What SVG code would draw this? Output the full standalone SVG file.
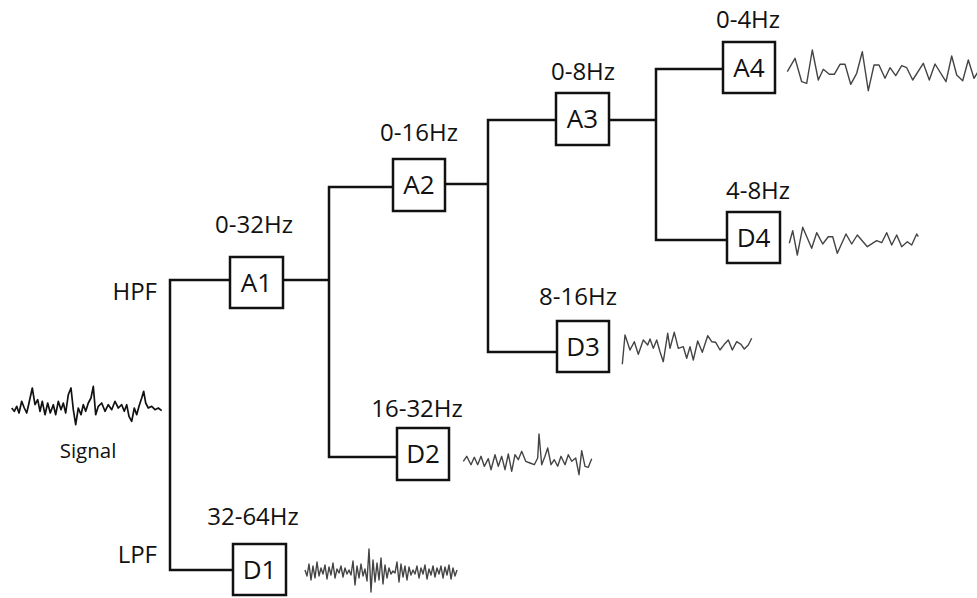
<svg xmlns="http://www.w3.org/2000/svg" width="977" height="598" viewBox="0 0 977 598">
<style>
.box{fill:#fff;stroke:#111;stroke-width:2.5}
.con{fill:none;stroke:#111;stroke-width:2.5}
.bl{font-family:"Open Sans","Noto Sans",sans-serif;font-size:26px;fill:#111;text-anchor:middle}
.fl{font-family:"Open Sans","Noto Sans",sans-serif;font-size:24px;fill:#111;text-anchor:middle}
.side{font-family:"Open Sans","Noto Sans",sans-serif;font-size:24px;fill:#111;text-anchor:end}
.wave{fill:none;stroke:#444;stroke-width:1.4;stroke-linejoin:round}
.sig{fill:none;stroke:#111;stroke-width:1.7;stroke-linejoin:round}
</style>
<rect width="977" height="598" fill="#fff"/>
<g id="connectors">
<polyline class="con" points="230,280 170,280 170,570 233,570"/>
<line class="con" x1="283" y1="280" x2="329" y2="280"/>
<polyline class="con" points="393,187 329,187 329,457 397,457"/>
<line class="con" x1="445" y1="184" x2="488" y2="184"/>
<polyline class="con" points="556,120 488,120 488,352 557,352"/>
<line class="con" x1="609" y1="120" x2="656" y2="120"/>
<polyline class="con" points="723,69 656,69 656,240 727,240"/>
</g>
<g id="signal">
<polyline class="sig" points="11.7,408 14.3,411.3 16.7,406.3 19,413 21.7,401.3 24.3,408 26.7,413 29,403 32.3,388 35,404.7 37.7,399.7 40,411.3 42.3,401.3 45,414.7 47.7,403 50.3,413 53.3,404.7 55.7,414.7 58.3,401.3 61,409.7 63.3,403 65.7,413 68.3,394.7 71,388 73.3,409.7 75.7,424.7 78.3,408 81,414.7 83.3,404.7 85.7,411.3 88.3,403 91,398 93.3,386.3 95.7,414.7 98.3,406.3 101.7,403 105,411.3 108.3,404.7 111.7,409.7 115,401.3 118.3,408 121.7,404.7 124.3,411.3 126.7,404.7 129,416.3 131.7,421.3 134.3,408 136.7,414.7 139,406.3 141.7,398 143.7,391.3 145.7,403 148.3,408 151.7,406.3 155,409.7 158.3,408 161.7,410.7"/>
<text x="88" y="458" font-family="Open Sans, Noto Sans, sans-serif" font-size="20.5" fill="#111" text-anchor="middle">Signal</text>
</g>
<text class="side" x="157" y="300">HPF</text>
<text class="side" x="157" y="563">LPF</text>
<g id="A1">
<rect class="box" x="230" y="257" width="53" height="51"/>
<text class="bl" x="256.5" y="292">A1</text>
<text class="fl" x="254" y="233">0-32Hz</text>
</g>
<g id="D1">
<rect class="box" x="233" y="544" width="53" height="51"/>
<text class="bl" x="259.5" y="579">D1</text>
<text class="fl" x="253" y="525">32-64Hz</text>
<polyline class="wave" points="305,570 307,576 309,564 311,580 313,566 315,578 317,562 319,576 321,568 323,574 325,565 327,579 329,567 331,575 333,563 335,578 337,569 339,573 341,566 343,577 345,568 347,574 349,570 351,575 353,561 355,585 357,566 359,578 361,564 363,576 365,569 367,581 369,549 371,592 373,560 375,582 377,563 379,580 381,558 383,584 385,565 387,578 389,568 391,574 393,571 395,573 397,562 399,582 401,564 403,577 405,566 407,580 409,567 411,575 413,570 415,574 417,566 419,578 421,568 423,574 425,565 427,579 429,569 431,575 433,566 435,577 437,568 439,574 441,566 443,578 445,567 447,575 449,565 451,579 453,568 455,576 457,570"/>
</g>
<g id="A2">
<rect class="box" x="393" y="159" width="52" height="52"/>
<text class="bl" x="419" y="194">A2</text>
<text class="fl" x="419" y="141">0-16Hz</text>
</g>
<g id="D2">
<rect class="box" x="397" y="428" width="52" height="52"/>
<text class="bl" x="423" y="463">D2</text>
<text class="fl" x="417" y="417">16-32Hz</text>
<polyline class="wave" points="463.3,461.3 466.7,456.3 471,464.7 474.3,457.3 477.7,464.7 481,456.3 484.3,466.3 488.3,458.7 491,469.7 495,454.7 498.3,466.3 501.7,456.3 505,469.7 508.3,454 511.7,471.3 515,454.7 518.3,459.7 521.7,451.3 525.7,461.3 530,463 534.3,464.7 537.7,458 539,434 541.7,464.7 545,456.3 547.7,448 551,464.7 554.3,459.7 557.7,466.3 561,456.3 565,464.7 568.3,454.7 571.7,461.3 575.7,458 579,474.7 581.7,450.7 585,466.3 588.3,467.3 591.7,458.7"/>
</g>
<g id="A3">
<rect class="box" x="556" y="93" width="53" height="52"/>
<text class="bl" x="582.5" y="128">A3</text>
<text class="fl" x="583" y="80">0-8Hz</text>
</g>
<g id="D3">
<rect class="box" x="557" y="321" width="52" height="51"/>
<text class="bl" x="583" y="356">D3</text>
<text class="fl" x="578" y="305">8-16Hz</text>
<polyline class="wave" points="622.3,364.3 625,335 630,350 634.3,341.7 638.3,354.3 643.3,340 647.7,345 650,339 653.3,348.3 656.7,340 660,351.7 663.3,361.7 667.7,333.3 670,348.3 674.3,332.3 678.3,348.3 683.3,346.7 686.7,358.3 690,346.7 693.3,360 697.7,341 702.3,352.3 707.7,335.7 711.7,341.7 715.7,342.3 720,350 724.3,344.3 728.3,340 732.3,350 736.7,341.7 741,344.3 744.3,349 748.3,345 751.7,338.3"/>
</g>
<g id="A4">
<rect class="box" x="723" y="42" width="52" height="51"/>
<text class="bl" x="749" y="77">A4</text>
<text class="fl" x="748" y="28">0-4Hz</text>
<polyline class="wave" points="787.3,71.7 795,58.3 801.7,81.7 806.7,83.3 812.3,50 818.3,80 823.3,69.3 829.3,74.3 834.3,74.3 840,64.3 845,64.3 850.7,84.3 856.7,73.3 862.3,51.7 868.3,90.7 874,65 879,65 885,78.3 890,67.7 895.7,75.7 901.7,65.7 906.7,67.7 912.7,80 923.3,63.3 929.3,80 935,64 946,81.7 951.7,56 956.7,75 962.7,80.7 968.3,60 974,78.3 979,70"/>
</g>
<g id="D4">
<rect class="box" x="727" y="212" width="53" height="51"/>
<text class="bl" x="753.5" y="247">D4</text>
<text class="fl" x="758" y="199">4-8Hz</text>
<polyline class="wave" points="789.3,243.3 792.7,230.7 797.3,255 802.7,227.3 811.7,248.3 816.7,232.7 822.7,244 828.3,236.7 832.7,236.7 837.3,253.3 846,234 851.7,244 857.3,235 867.3,246.7 876.7,240.7 881.7,242.7 886.7,232.7 891.7,245 896.7,235 901.7,246.7 907.3,241.7 911.7,245 916.7,234 918.3,236.7"/>
</g>
</svg>
